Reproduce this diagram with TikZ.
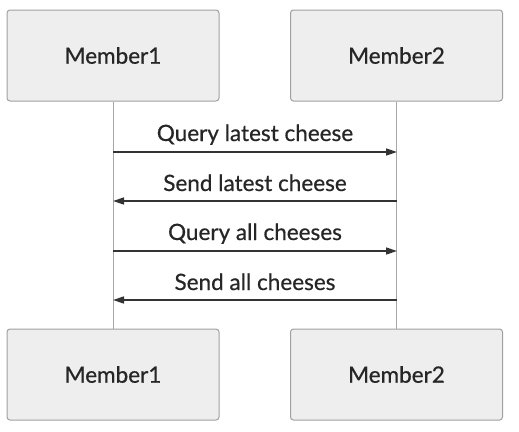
\documentclass[tikz,border=0pt]{standalone}
\usepackage{fontspec}
\setmainfont{Lato}[FakeBold=0.6]
\usetikzlibrary{arrows.meta}
\definecolor{boxfill}{HTML}{EEEEEE}
\definecolor{boxline}{HTML}{A0A0A0}
\definecolor{lifeln}{HTML}{A8A8A8}
\definecolor{msgln}{HTML}{333333}
\begin{document}
\begin{tikzpicture}[x=1pt,y=-1pt,
  actor/.style={draw=boxline, fill=boxfill, line width=1pt, rounded corners=3pt,
    minimum width=212pt, minimum height=91pt, inner sep=0pt, font=\fontsize{22.5}{26}\selectfont, text=black!85},
  lifeline/.style={draw=lifeln, line width=1pt},
  msg/.style={draw=msgln, line width=1.6pt, -{Triangle[length=11pt,width=7pt]}},
  msglabel/.style={anchor=base, font=\fontsize{22.5}{26}\selectfont, text=black!85, inner sep=0pt}]
\useasboundingbox (0,0) rectangle (519,431);
\node[actor] (m1t) at (113,55.5) {Member1};
\node[actor] (m2t) at (396.5,55.5) {Member2};
\node[actor] (m1b) at (113,374.5) {Member1};
\node[actor] (m2b) at (396.5,374.5) {Member2};
\draw[lifeline] (m1t.south) -- (m1b.north);
\draw[lifeline] (m2t.south) -- (m2b.north);
\coordinate (a1l) at (113,152); \coordinate (a1r) at (397,152);
\coordinate (a2l) at (113,201); \coordinate (a2r) at (397,201);
\coordinate (a3l) at (113,251); \coordinate (a3r) at (397,251);
\coordinate (a4l) at (113,300); \coordinate (a4r) at (397,300);
\draw[msg] (a1l) -- (a1r);
\draw[msg] (a2r) -- (a2l);
\draw[msg] (a3l) -- (a3r);
\draw[msg] (a4r) -- (a4l);
\node[msglabel] (l1) at (255,141) {Query latest cheese};
\node[msglabel] (l2) at (255,191) {Send latest cheese};
\node[msglabel] (l3) at (255,240) {Query all cheeses};
\node[msglabel] (l4) at (255,290) {Send all cheeses};
\end{tikzpicture}
\end{document}
